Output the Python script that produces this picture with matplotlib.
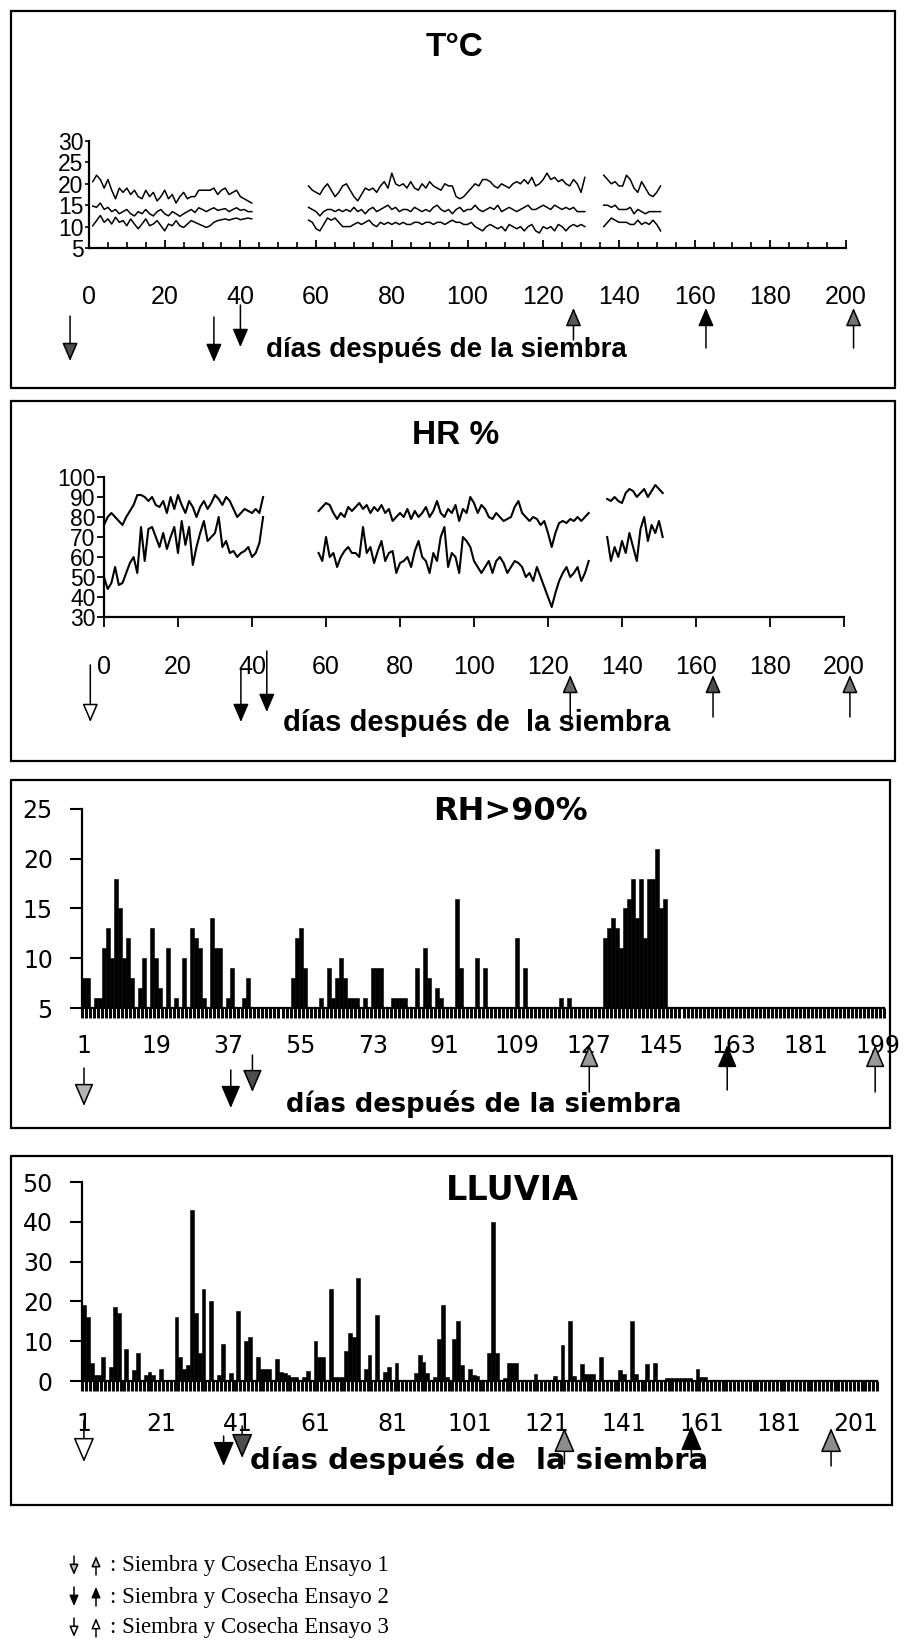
import matplotlib
matplotlib.use("Agg")
import matplotlib.pyplot as plt
import matplotlib.transforms as mtransforms
from matplotlib.patches import FancyArrowPatch, Rectangle
from matplotlib.ticker import MultipleLocator

W, H = 907, 1642

# ---- temperature (three recorded stretches) ----
T_SEG_START = [1, 58, 136]
T_MAX = [
    [20.5, 22, 21, 19, 21, 18.5, 16.5, 19, 18, 19, 17.5, 18.5, 17, 16.5, 18.5, 17, 18, 16, 17, 18.5,
     16.5, 17.5, 15.5, 17, 18, 16.5, 17, 17, 18.5, 18.5, 18.5, 18.5, 19, 17.5, 18.5, 19, 17.5, 18,
     18.5, 17, 16.5, 16, 15.5],
    [19.5, 18.5, 18, 17.5, 19, 20, 18.5, 17, 18, 19.5, 20, 18.5, 17, 16, 17.5, 19, 18.5, 19, 18, 19.5,
     20.5, 19, 22.5, 20, 19.5, 20, 19, 20.5, 19, 18.5, 20, 19, 20.5, 19.5, 19, 18.5, 20, 19.5, 19.5, 17,
     16.5, 17, 18, 19, 20, 19.5, 21, 21, 20.5, 19.5, 19, 20, 19.5, 19, 20, 20.5, 20, 21, 20, 21.5,
     19.5, 20, 21, 22.5, 21, 21.5, 20.5, 21, 20, 19.5, 21, 20, 18, 21.5],
    [22, 21, 20, 20.5, 19.5, 19.5, 22, 21, 19, 18, 20.5, 19, 17.5, 17, 18, 19.5],
]
T_MEAN = [
    [14.8, 14.5, 15.5, 14, 14.5, 13.5, 14, 13, 13.5, 14, 13, 12.5, 13.5, 13, 14, 13, 12.5, 13.5, 14,
     13, 12.5, 13.5, 13, 12.4, 13, 13.5, 14, 13.3, 14.4, 14, 13.5, 14, 14.4, 13.8, 14, 14.2, 13.5,
     14, 14.4, 13.8, 14, 13.5, 13.5],
    [14.5, 14, 13.5, 12.5, 13.5, 14, 14, 13.5, 14, 13.5, 14, 13.5, 14.5, 13.5, 14, 13, 14, 14.5, 13.5,
     14, 14.5, 15, 14, 14.5, 13.5, 14, 14, 13.5, 14.5, 14, 13.5, 14, 13.5, 14.5, 15, 14, 13.5, 14, 13,
     14, 14.5, 13.5, 14, 14, 15, 14, 13.5, 14, 14.5, 14, 15, 13.5, 14, 14.5, 14, 13.5, 14, 14.5, 15,
     14, 14, 14.5, 15, 14.5, 14, 15, 14.5, 14, 14.5, 14, 14.5, 13.5, 13.5, 13.5],
    [15, 15, 14.5, 15, 14, 14, 14, 14.5, 13, 14, 13.5, 13, 13.5, 13.5, 13.5, 13.5],
]
T_MIN = [
    [10.2, 11.4, 12.6, 11, 11.8, 10.6, 12.2, 11, 11.4, 10.2, 11.8, 10.6, 9.5, 10.6, 11.8, 10.2, 10.6,
     11.4, 10.2, 9, 10.6, 10.2, 11.4, 10.2, 9.8, 10.6, 11.4, 11, 10.6, 10.2, 9.8, 10.2, 11, 11.4, 11.6,
     11.8, 11.5, 11.8, 12, 11.6, 11.8, 12, 11.8],
    [11.5, 11, 9.5, 9, 10.5, 12, 11.5, 12, 11, 10, 10, 10, 10.5, 11, 10.5, 11, 11.5, 10.5, 10, 11,
     10.5, 11, 10.5, 11, 10.5, 11, 10.5, 10.5, 11, 11, 10.5, 11, 11, 10.5, 11, 11, 10.5, 11, 11.5, 11,
     11, 10.5, 10.5, 11, 10, 9.5, 9, 10, 10.5, 10, 9.5, 10, 9, 10.5, 10, 9.5, 10, 9, 10, 10.5, 9,
     8.5, 10, 9.5, 10, 9, 10.5, 10, 9, 10, 10.5, 10, 10.5, 10],
    [10, 11, 12, 11.5, 11, 11, 11, 10.5, 10.5, 11.5, 10.5, 11, 10.5, 11.5, 10.5, 9],
]

# ---- relative humidity (max / min) ----
HR_SEG_START = [0, 58, 136]
HR_HIGH = [
    [76, 80, 82, 80, 78, 76, 80, 83, 86, 91, 91, 90, 88, 90, 86, 85, 88, 82, 90, 84, 91, 86, 82, 88,
     85, 80, 85, 88, 84, 87, 91, 89, 86, 90, 88, 84, 80, 82, 84, 83, 82, 84, 82, 90],
    [83, 85, 87, 86, 82, 79, 82, 80, 85, 83, 85, 87, 84, 86, 82, 85, 83, 86, 82, 84, 78, 80, 82, 80,
     84, 79, 83, 80, 82, 85, 80, 83, 88, 82, 80, 84, 82, 86, 78, 84, 82, 90, 87, 82, 86, 84, 80, 79,
     82, 80, 78, 79, 80, 85, 88, 82, 80, 78, 80, 79, 76, 78, 72, 65, 72, 77, 78, 77, 79, 78, 80, 78,
     80, 82],
    [89, 88, 90, 88, 87, 92, 94, 93, 90, 92, 94, 90, 93, 96, 94, 92],
]
HR_LOW = [
    [50, 44, 47, 55, 46, 47, 52, 57, 60, 52, 75, 58, 74, 75, 70, 65, 72, 64, 70, 75, 62, 78, 66, 75,
     56, 65, 72, 78, 68, 70, 72, 80, 65, 68, 62, 63, 60, 62, 63, 65, 60, 62, 67, 80],
    [62, 58, 70, 60, 62, 55, 60, 63, 65, 62, 62, 60, 75, 62, 65, 57, 63, 68, 58, 62, 63, 52, 57, 58,
     60, 55, 63, 68, 60, 58, 52, 62, 58, 70, 75, 55, 62, 60, 52, 70, 68, 65, 58, 55, 52, 55, 58, 52,
     58, 60, 57, 52, 55, 58, 57, 55, 50, 52, 48, 55, 50, 45, 40, 35, 42, 48, 52, 55, 50, 52, 55, 48,
     52, 58],
    [70, 58, 65, 60, 68, 62, 72, 65, 58, 74, 80, 68, 76, 72, 78, 70],
]

# ---- hours with RH > 90 % (baseline 5) ----
RH_DAYS = [1, 2, 4, 5, 6, 7, 8, 9, 10, 11, 12, 13, 15, 16, 18, 19, 20, 22, 24, 26, 28, 29, 30, 31,
           33, 34, 35, 37, 38, 41, 42, 53, 54, 55, 56, 60, 62, 63, 64, 65, 66, 67, 68, 69, 71, 73,
           74, 75, 78, 79, 80, 81, 84, 86, 87, 89, 90, 94, 95, 99, 101, 109, 111, 120, 122, 131,
           132, 133, 134, 135, 136, 137, 138, 139, 140, 141, 142, 143, 144, 145, 146]
RH_HOURS = [8, 8, 6, 6, 11, 13, 10, 18, 15, 10, 12, 8, 7, 10, 13, 10, 7, 11, 6, 10, 13, 12, 11, 6,
            14, 11, 11, 6, 9, 6, 8, 8, 12, 13, 9, 6, 9, 6, 8, 10, 8, 6, 6, 6, 6, 9,
            9, 9, 6, 6, 6, 6, 9, 11, 8, 7, 6, 16, 9, 10, 9, 12, 9, 6, 6, 12,
            13, 14, 13, 11, 15, 16, 18, 14, 18, 12, 18, 18, 21, 15, 16]

# ---- rainfall (mm) ----
RAIN_DAYS = [1, 2, 3, 4, 5, 6, 8, 9, 10, 12, 14, 15, 17, 18, 19, 21, 25, 26, 27, 28, 29, 30, 31, 32,
             34, 36, 37, 39, 41, 43, 44, 46, 47, 48, 49, 51, 52, 53, 54, 55, 56, 58, 59, 61, 62, 63,
             65, 66, 67, 68, 69, 70, 71, 72, 74, 75, 77, 79, 80, 82, 87, 88, 89, 90, 92, 93, 94, 95,
             97, 98, 99, 101, 102, 103, 106, 107, 108, 110, 111, 112, 113, 118, 123, 125, 127, 128,
             130, 131, 132, 133, 135, 140, 141, 143, 144, 147, 149, 152, 153, 154, 155, 156, 157,
             158, 160, 161, 162]
RAIN_MM = [19, 16, 4.5, 1.5, 1.5, 6, 3.5, 18.6, 17, 8, 2.8, 7, 1.6, 2.2, 1.5, 3, 16, 6, 3, 4, 43, 17,
           7, 23, 20, 1.5, 9.4, 2, 17.6, 10, 11, 6, 3, 3, 3, 5.5, 2.2, 2, 1.5, 1, 1, 1, 2.5, 10, 6, 6,
           23, 1, 1, 1, 7.5, 12, 11, 26, 3, 6.5, 16.5, 2.2, 3.5, 4.6, 2, 6.5, 4.8, 2, 1, 10.6, 19, 1,
           10.6, 15, 4, 3, 1.5, 1.3, 7, 40, 7, 0.8, 4.4, 4.4, 4.4, 1.8, 1.3, 9, 15, 1.3,
           4.2, 1.7, 1.7, 1.7, 6, 2.7, 1.7, 15, 1.7, 4.2, 4.6, 0.8, 0.8, 0.8, 0.8, 0.8, 0.8,
           0.8, 3, 1, 1]

# sowing (down) and harvest (up) days per trial, as marked in each panel
T_SOW, T_HARV = [-5, 33, 40], [128, 163, 202]
HR_SOW, HR_HARV = [-3.7, 37, 44], [126, 164.6, 201.6]
RH_SOW, RH_HARV = [1, 37.6, 43], [127, 161.4, 198.3]
RAIN_SOW, RAIN_HARV = [1, 37.2, 42], [125.5, 158.4, 194.6]
LEGEND = [": Siembra y Cosecha Ensayo 1", ": Siembra y Cosecha Ensayo 2",
          ": Siembra y Cosecha Ensayo 3"]
XLABEL = "días después de la siembra"
XLABEL_WIDE = "días después de  la siembra"

plt.rcParams.update({"font.family": ["Liberation Sans", "DejaVu Sans"]})

fig = plt.figure(figsize=(W / 100, H / 100), dpi=100)
px = mtransforms.Affine2D().scale(1 / W, -1 / H).translate(0, 1) + fig.transFigure


def axes_at(l, t, r, b):
    ax = fig.add_axes([l / W, 1 - b / H, (r - l) / W, (b - t) / H])
    ax.spines[["top", "right"]].set_visible(False)
    for s in ("left", "bottom"):
        ax.spines[s].set_linewidth(1.6)
    ax.patch.set_alpha(0)
    return ax


def frame(l, t, r, b):
    fig.add_artist(Rectangle((l, t), r - l, b - t, transform=px, fill=False,
                             lw=1.6, ec="black"))


def label(x, y, s, **kw):
    fig.text(x, y, s, transform=px, ha="center", va="center", **kw)


def arrow(tr, x, y0, y1, up, fc, scale, lw=1.1):
    # y0 = top, y1 = bottom in figure pixels
    tail, head = ((x, y1), (x, y0)) if up else ((x, y0), (x, y1))
    fig.add_artist(FancyArrowPatch(
        tail, head, transform=tr, arrowstyle="-|>,head_length=0.7,head_width=0.3",
        mutation_scale=scale, lw=lw, fc=fc, ec="black", shrinkA=0, shrinkB=0,
        clip_on=False))


def event_arrows(ax, sow, harv, sow_y, harv_y, sow_fc, harv_fc, scale):
    tr = mtransforms.blended_transform_factory(ax.transData, px)
    for d, (y0, y1), fc in zip(sow, sow_y, sow_fc):
        arrow(tr, d, y0, y1, False, fc, scale)
    for d, (y0, y1), fc in zip(harv, harv_y, harv_fc):
        arrow(tr, d, y0, y1, True, fc, scale)


# ---------------- panel 1: temperature ----------------
frame(11, 11, 895, 388)
ax1 = axes_at(89, 141, 846, 248)
for series in (T_MAX, T_MEAN, T_MIN):
    for start, seg in zip(T_SEG_START, series):
        ax1.plot(range(start, start + len(seg)), seg, color="black", lw=1.1)
ax1.set_xlim(0, 200)
ax1.set_ylim(5, 30)
ax1.set_xticks(range(0, 201, 20))
ax1.xaxis.set_minor_locator(MultipleLocator(5))
ax1.set_yticks(range(5, 31, 5))
ax1.tick_params(axis="x", which="major", direction="in", length=6, width=1.3,
                pad=27, labelsize=18)
ax1.tick_params(axis="x", which="minor", direction="in", length=4, width=1.2)
ax1.tick_params(axis="y", direction="out", length=3, width=1.2, pad=1, labelsize=16.5)
label(455, 47, "T°C", fontsize=24, fontweight="bold")
label(446, 350, XLABEL, fontsize=20, fontweight="bold")
event_arrows(ax1, T_SOW, T_HARV,
             [(316, 361), (317, 362), (305, 347)],
             [(308, 340), (308, 348), (308, 348)],
             ["0.3", "black", "black"], ["0.35", "black", "0.45"], 16)

# ---------------- panel 2: relative humidity ----------------
frame(11, 401, 895, 761)
ax2 = axes_at(104, 477, 844, 617)
for series in (HR_HIGH, HR_LOW):
    for start, seg in zip(HR_SEG_START, series):
        ax2.plot(range(start, start + len(seg)), seg, color="black", lw=1.5)
ax2.set_xlim(0, 200)
ax2.set_ylim(30, 100)
ax2.set_xticks(range(0, 201, 20))
ax2.set_yticks(range(30, 101, 10))
ax2.tick_params(axis="x", direction="out", length=7, width=1.3, pad=20, labelsize=18)
ax2.tick_params(axis="y", direction="out", length=5, width=1.3, pad=1, labelsize=16.5)
label(456, 435, "HR %", fontsize=24, fontweight="bold")
label(477, 723, XLABEL_WIDE, fontsize=21, fontweight="bold")
event_arrows(ax2, HR_SOW, HR_HARV,
             [(665, 722), (670, 722), (651, 712)],
             [(675, 722), (675, 717), (675, 717)],
             ["white", "black", "black"], ["0.4", "0.3", "0.45"], 16)

# ---------------- panel 3: hours RH > 90 % ----------------
frame(11, 780, 890, 1128)
ax3 = axes_at(82, 809, 884, 1008)
ax3.bar(RH_DAYS, [v - 5 for v in RH_HOURS], bottom=5, width=1.0, color="black",
        edgecolor="black", lw=0.4)
ax3.set_xlim(0.5, 200.5)
ax3.set_ylim(5, 25)
ax3.set_xticks(range(1, 200, 18))
ax3.set_xticks([k + 0.5 for k in range(0, 201)], minor=True)
ax3.set_yticks(range(5, 26, 5))
ax3.tick_params(axis="x", which="major", length=0, pad=19, labelsize=17)
ax3.tick_params(axis="x", which="minor", direction="out", length=7, width=2.1)
ax3.tick_params(axis="y", direction="out", length=9, width=1.5, pad=12, labelsize=17)
for t in ax3.get_xticklabels() + ax3.get_yticklabels():
    t.set_family("DejaVu Sans")
label(510, 812, "RH>90%", fontsize=23, fontweight="bold", family="DejaVu Sans")
label(484, 1104, XLABEL, fontsize=18.5, fontweight="bold", family="DejaVu Sans")
event_arrows(ax3, RH_SOW, RH_HARV,
             [(1068, 1106), (1070, 1108), (1055, 1092)],
             [(1045, 1092), (1045, 1090), (1045, 1092)],
             ["0.7", "black", "0.3"], ["0.6", "black", "0.6"], 20)

# ---------------- panel 4: rainfall ----------------
frame(11, 1156, 892, 1505)
ax4 = axes_at(82, 1182, 877, 1381)
ax4.bar(RAIN_DAYS, RAIN_MM, width=1.0, color="black", edgecolor="black", lw=0.4)
ax4.set_xlim(0.5, 206.5)
ax4.set_ylim(0, 50)
ax4.set_xticks(range(1, 202, 20))
ax4.set_xticks([k + 0.5 for k in range(0, 207)], minor=True)
ax4.set_yticks(range(0, 51, 10))
ax4.tick_params(axis="x", which="major", length=0, pad=22, labelsize=17)
ax4.tick_params(axis="x", which="minor", direction="out", length=7, width=2.1)
ax4.tick_params(axis="y", direction="out", length=9, width=1.5, pad=12, labelsize=17)
for t in ax4.get_xticklabels() + ax4.get_yticklabels():
    t.set_family("DejaVu Sans")
label(512, 1191, "LLUVIA", fontsize=24, fontweight="bold", family="DejaVu Sans")
event_arrows(ax4, RAIN_SOW, RAIN_HARV,
             [(1420, 1462), (1436, 1466), (1426, 1458)],
             [(1428, 1464), (1426, 1458), (1428, 1466)],
             ["white", "black", "0.3"], ["0.55", "black", "0.55"], 22)
label(479, 1460, XLABEL_WIDE, fontsize=21, fontweight="bold", family="DejaVu Sans")

# ---------------- legend ----------------
for i, (txt, fc) in enumerate(zip(LEGEND, ["0.75", "black", "white"])):
    y = 1566 + 31 * i
    arrow(px, 74, y - 10, y + 9, False, fc, 9)
    arrow(px, 96, y - 10, y + 9, True, fc, 9)
    fig.text(110, y, txt, transform=px, ha="left", va="center", fontsize=16.5,
             family="Liberation Serif")

fig.savefig("out.png", dpi=100)
